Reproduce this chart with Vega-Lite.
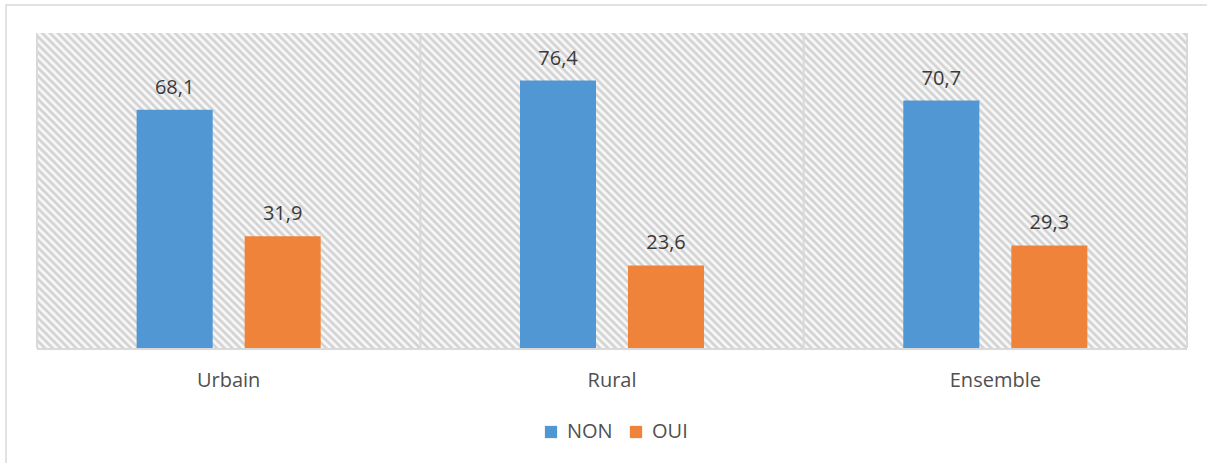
{
  "$schema": "https://vega.github.io/schema/vega-lite/v6.json",
  "width": 1205,
  "height": 462,
  "autosize": {"type": "none"},
  "padding": {"left": 6, "top": 5, "right": 0, "bottom": 0},
  "background": "#ffffff",
  "config": {
    "view": {"stroke": "#d9d9d9", "strokeWidth": 1.5},
    "font": "Open Sans"
  },
  "data": {
    "values": [
      {"zone": "Urbain", "reponse": "NON", "pct": 68.1, "label": "68,1"},
      {"zone": "Urbain", "reponse": "OUI", "pct": 31.9, "label": "31,9"},
      {"zone": "Rural", "reponse": "NON", "pct": 76.4, "label": "76,4"},
      {"zone": "Rural", "reponse": "OUI", "pct": 23.6, "label": "23,6"},
      {"zone": "Ensemble", "reponse": "NON", "pct": 70.7, "label": "70,7"},
      {"zone": "Ensemble", "reponse": "OUI", "pct": 29.3, "label": "29,3"}
    ]
  },
  "encoding": {
    "x": {
      "field": "zone",
      "type": "nominal",
      "sort": ["Urbain", "Rural", "Ensemble"],
      "scale": {"range": [31, 1181], "paddingInner": 0, "paddingOuter": 0},
      "axis": null
    }
  },
  "layer": [
    {
      "transform": [{"filter": "datum.reponse === 'NON'"}],
      "mark": {
        "type": "rect",
        "fill": {
          "gradient": "linear",
          "x1": 0, "y1": 1, "x2": 1.216, "y2": 0,
          "stops": [
            {"offset":0,"color":"#ccc"},{"offset":0.005,"color":"#fff"},
            {"offset":0.01,"color":"#ccc"},{"offset":0.015,"color":"#fff"},
            {"offset":0.02,"color":"#ccc"},{"offset":0.025,"color":"#fff"},
            {"offset":0.03,"color":"#ccc"},{"offset":0.035,"color":"#fff"},
            {"offset":0.04,"color":"#ccc"},{"offset":0.045,"color":"#fff"},
            {"offset":0.05,"color":"#ccc"},{"offset":0.055,"color":"#fff"},
            {"offset":0.06,"color":"#ccc"},{"offset":0.065,"color":"#fff"},
            {"offset":0.07,"color":"#ccc"},{"offset":0.075,"color":"#fff"},
            {"offset":0.08,"color":"#ccc"},{"offset":0.085,"color":"#fff"},
            {"offset":0.09,"color":"#ccc"},{"offset":0.095,"color":"#fff"},
            {"offset":0.10,"color":"#ccc"},{"offset":0.105,"color":"#fff"},
            {"offset":0.11,"color":"#ccc"},{"offset":0.115,"color":"#fff"},
            {"offset":0.12,"color":"#ccc"},{"offset":0.125,"color":"#fff"},
            {"offset":0.13,"color":"#ccc"},{"offset":0.135,"color":"#fff"},
            {"offset":0.14,"color":"#ccc"},{"offset":0.145,"color":"#fff"},
            {"offset":0.15,"color":"#ccc"},{"offset":0.155,"color":"#fff"},
            {"offset":0.16,"color":"#ccc"},{"offset":0.165,"color":"#fff"},
            {"offset":0.17,"color":"#ccc"},{"offset":0.175,"color":"#fff"},
            {"offset":0.18,"color":"#ccc"},{"offset":0.185,"color":"#fff"},
            {"offset":0.19,"color":"#ccc"},{"offset":0.195,"color":"#fff"},
            {"offset":0.20,"color":"#ccc"},{"offset":0.205,"color":"#fff"},
            {"offset":0.21,"color":"#ccc"},{"offset":0.215,"color":"#fff"},
            {"offset":0.22,"color":"#ccc"},{"offset":0.225,"color":"#fff"},
            {"offset":0.23,"color":"#ccc"},{"offset":0.235,"color":"#fff"},
            {"offset":0.24,"color":"#ccc"},{"offset":0.245,"color":"#fff"},
            {"offset":0.25,"color":"#ccc"},{"offset":0.255,"color":"#fff"},
            {"offset":0.26,"color":"#ccc"},{"offset":0.265,"color":"#fff"},
            {"offset":0.27,"color":"#ccc"},{"offset":0.275,"color":"#fff"},
            {"offset":0.28,"color":"#ccc"},{"offset":0.285,"color":"#fff"},
            {"offset":0.29,"color":"#ccc"},{"offset":0.295,"color":"#fff"},
            {"offset":0.30,"color":"#ccc"},{"offset":0.305,"color":"#fff"},
            {"offset":0.31,"color":"#ccc"},{"offset":0.315,"color":"#fff"},
            {"offset":0.32,"color":"#ccc"},{"offset":0.325,"color":"#fff"},
            {"offset":0.33,"color":"#ccc"},{"offset":0.335,"color":"#fff"},
            {"offset":0.34,"color":"#ccc"},{"offset":0.345,"color":"#fff"},
            {"offset":0.35,"color":"#ccc"},{"offset":0.355,"color":"#fff"},
            {"offset":0.36,"color":"#ccc"},{"offset":0.365,"color":"#fff"},
            {"offset":0.37,"color":"#ccc"},{"offset":0.375,"color":"#fff"},
            {"offset":0.38,"color":"#ccc"},{"offset":0.385,"color":"#fff"},
            {"offset":0.39,"color":"#ccc"},{"offset":0.395,"color":"#fff"},
            {"offset":0.40,"color":"#ccc"},{"offset":0.405,"color":"#fff"},
            {"offset":0.41,"color":"#ccc"},{"offset":0.415,"color":"#fff"},
            {"offset":0.42,"color":"#ccc"},{"offset":0.425,"color":"#fff"},
            {"offset":0.43,"color":"#ccc"},{"offset":0.435,"color":"#fff"},
            {"offset":0.44,"color":"#ccc"},{"offset":0.445,"color":"#fff"},
            {"offset":0.45,"color":"#ccc"},{"offset":0.455,"color":"#fff"},
            {"offset":0.46,"color":"#ccc"},{"offset":0.465,"color":"#fff"},
            {"offset":0.47,"color":"#ccc"},{"offset":0.475,"color":"#fff"},
            {"offset":0.48,"color":"#ccc"},{"offset":0.485,"color":"#fff"},
            {"offset":0.49,"color":"#ccc"},{"offset":0.495,"color":"#fff"},
            {"offset":0.50,"color":"#ccc"},{"offset":0.505,"color":"#fff"},
            {"offset":0.51,"color":"#ccc"},{"offset":0.515,"color":"#fff"},
            {"offset":0.52,"color":"#ccc"},{"offset":0.525,"color":"#fff"},
            {"offset":0.53,"color":"#ccc"},{"offset":0.535,"color":"#fff"},
            {"offset":0.54,"color":"#ccc"},{"offset":0.545,"color":"#fff"},
            {"offset":0.55,"color":"#ccc"},{"offset":0.555,"color":"#fff"},
            {"offset":0.56,"color":"#ccc"},{"offset":0.565,"color":"#fff"},
            {"offset":0.57,"color":"#ccc"},{"offset":0.575,"color":"#fff"},
            {"offset":0.58,"color":"#ccc"},{"offset":0.585,"color":"#fff"},
            {"offset":0.59,"color":"#ccc"},{"offset":0.595,"color":"#fff"},
            {"offset":0.60,"color":"#ccc"},{"offset":0.605,"color":"#fff"},
            {"offset":0.61,"color":"#ccc"},{"offset":0.615,"color":"#fff"},
            {"offset":0.62,"color":"#ccc"},{"offset":0.625,"color":"#fff"},
            {"offset":0.63,"color":"#ccc"},{"offset":0.635,"color":"#fff"},
            {"offset":0.64,"color":"#ccc"},{"offset":0.645,"color":"#fff"},
            {"offset":0.65,"color":"#ccc"},{"offset":0.655,"color":"#fff"},
            {"offset":0.66,"color":"#ccc"},{"offset":0.665,"color":"#fff"},
            {"offset":0.67,"color":"#ccc"},{"offset":0.675,"color":"#fff"},
            {"offset":0.68,"color":"#ccc"},{"offset":0.685,"color":"#fff"},
            {"offset":0.69,"color":"#ccc"},{"offset":0.695,"color":"#fff"},
            {"offset":0.70,"color":"#ccc"},{"offset":0.705,"color":"#fff"},
            {"offset":0.71,"color":"#ccc"},{"offset":0.715,"color":"#fff"},
            {"offset":0.72,"color":"#ccc"},{"offset":0.725,"color":"#fff"},
            {"offset":0.73,"color":"#ccc"},{"offset":0.735,"color":"#fff"},
            {"offset":0.74,"color":"#ccc"},{"offset":0.745,"color":"#fff"},
            {"offset":0.75,"color":"#ccc"},{"offset":0.755,"color":"#fff"},
            {"offset":0.76,"color":"#ccc"},{"offset":0.765,"color":"#fff"},
            {"offset":0.77,"color":"#ccc"},{"offset":0.775,"color":"#fff"},
            {"offset":0.78,"color":"#ccc"},{"offset":0.785,"color":"#fff"},
            {"offset":0.79,"color":"#ccc"},{"offset":0.795,"color":"#fff"},
            {"offset":0.80,"color":"#ccc"},{"offset":0.805,"color":"#fff"},
            {"offset":0.81,"color":"#ccc"},{"offset":0.815,"color":"#fff"},
            {"offset":0.82,"color":"#ccc"},{"offset":0.825,"color":"#fff"},
            {"offset":0.83,"color":"#ccc"},{"offset":0.835,"color":"#fff"},
            {"offset":0.84,"color":"#ccc"},{"offset":0.845,"color":"#fff"},
            {"offset":0.85,"color":"#ccc"},{"offset":0.855,"color":"#fff"},
            {"offset":0.86,"color":"#ccc"},{"offset":0.865,"color":"#fff"},
            {"offset":0.87,"color":"#ccc"},{"offset":0.875,"color":"#fff"},
            {"offset":0.88,"color":"#ccc"},{"offset":0.885,"color":"#fff"},
            {"offset":0.89,"color":"#ccc"},{"offset":0.895,"color":"#fff"},
            {"offset":0.90,"color":"#ccc"},{"offset":0.905,"color":"#fff"},
            {"offset":0.91,"color":"#ccc"},{"offset":0.915,"color":"#fff"}
          ]
        }
      },
      "encoding": {
        "y": {"datum": 90, "type": "quantitative", "scale": {"domain": [0, 90], "range": [343, 28], "nice": false, "zero": false}, "axis": null},
        "y2": {"datum": 0}
      }
    },
    {
      "transform": [{"filter": "datum.reponse === 'NON'"}],
      "mark": {"type": "rect", "fill": "#d9d9d9"},
      "encoding": {
        "y": {"datum": 0, "type": "quantitative", "axis": null},
        "y2": {"datum": -0.6}
      }
    },
    {
      "transform": [{"filter": "datum.reponse === 'NON'"}],
      "mark": {"type": "rule", "color": "#d9d9d9", "strokeWidth": 2},
      "encoding": {
        "x": {"field": "zone", "type": "nominal", "sort": ["Urbain", "Rural", "Ensemble"], "bandPosition": 0, "axis": null},
        "y": {"datum": 90, "type": "quantitative", "axis": null},
        "y2": {"datum": 0}
      }
    },
    {
      "transform": [{"filter": "datum.reponse === 'NON' && datum.zone === 'Ensemble'"}],
      "mark": {"type": "rule", "color": "#d9d9d9", "strokeWidth": 2},
      "encoding": {
        "x": {"field": "zone", "type": "nominal", "sort": ["Urbain", "Rural", "Ensemble"], "bandPosition": 1, "axis": null},
        "y": {"datum": 90, "type": "quantitative", "axis": null},
        "y2": {"datum": 0}
      }
    },
    {
      "mark": {"type": "bar"},
      "encoding": {
        "xOffset": {"field": "reponse", "type": "nominal", "sort": ["NON", "OUI"], "scale": {"paddingInner": 0.296, "paddingOuter": 0.9225}},
        "y": {"field": "pct", "type": "quantitative", "axis": null},
        "y2": {"datum": 0},
        "color": {
          "field": "reponse",
          "type": "nominal",
          "scale": {"domain": ["NON", "OUI"], "range": ["#5097d3", "#f0833a"]},
          "legend": {
            "orient": "none",
            "legendX": 535,
            "legendY": 417,
            "direction": "horizontal",
            "title": null,
            "symbolType": "square",
            "symbolSize": 150,
            "symbolStrokeWidth": 0,
            "symbolOpacity": 1,
            "labelFont": "Open Sans",
            "labelFontSize": 20,
            "labelColor": "#505050",
            "labelOffset": 6,
            "columnPadding": 13,
            "padding": 0
          }
        }
      }
    },
    {
      "mark": {"type": "text", "baseline": "alphabetic", "dy": -16, "fontSize": 20, "font": "Open Sans", "color": "#3a3a3a"},
      "encoding": {
        "xOffset": {"field": "reponse", "type": "nominal", "sort": ["NON", "OUI"]},
        "y": {"field": "pct", "type": "quantitative", "axis": null},
        "text": {"field": "label"}
      }
    },
    {
      "transform": [{"filter": "datum.reponse === 'NON'"}],
      "mark": {"type": "text", "baseline": "alphabetic", "fontSize": 20, "font": "Open Sans", "color": "#505050"},
      "encoding": {
        "y": {"datum": -11.2, "type": "quantitative", "axis": null},
        "text": {"field": "zone"}
      }
    }
  ]
}
